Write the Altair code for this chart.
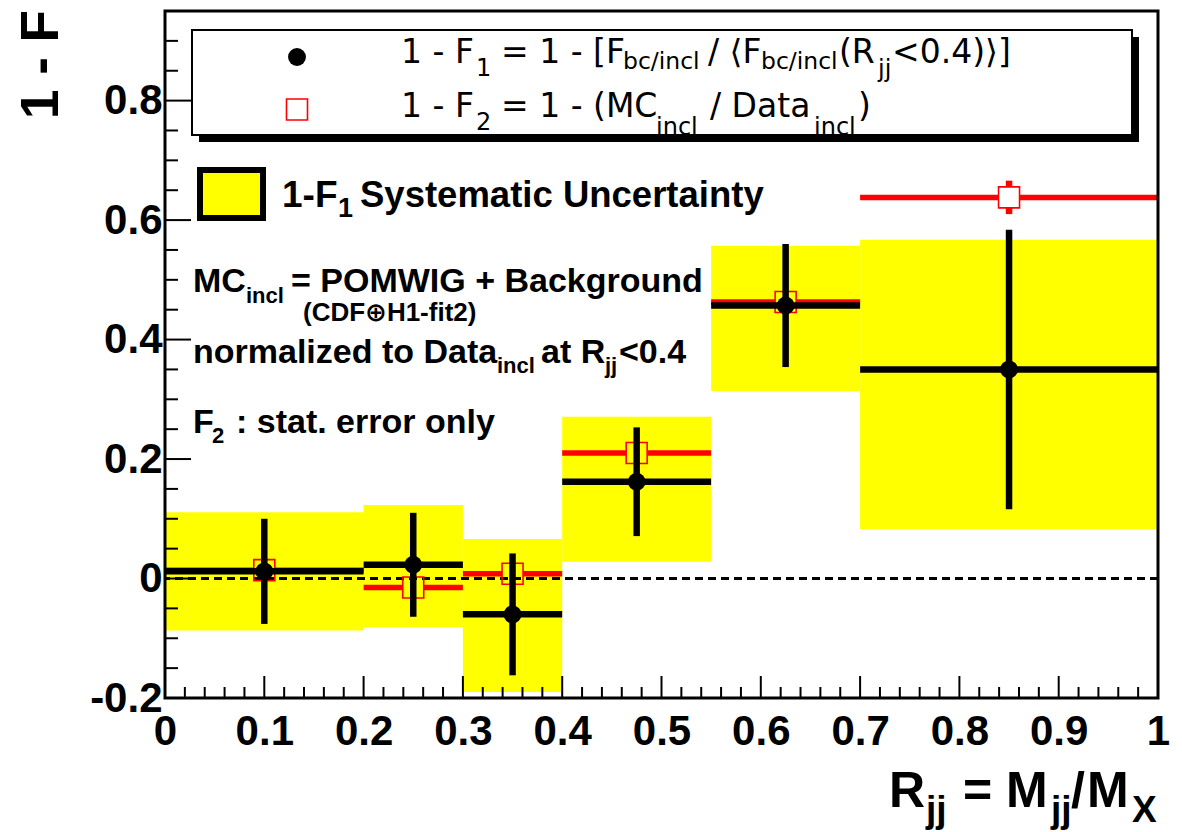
import altair as alt
import pandas as pd

# ---------------- data ----------------
bin_lo = [0.0, 0.2, 0.3, 0.4, 0.55, 0.7]
bin_hi = [0.2, 0.3, 0.4, 0.55, 0.7, 1.0]
x_mid = [0.1, 0.25, 0.35, 0.475, 0.625, 0.85]
f1 = [0.012, 0.023, -0.060, 0.162, 0.457, 0.350]          # 1 - F1
f1_err = [0.088, 0.087, 0.102, 0.091, 0.103, 0.234]
sys_lo = [-0.087, -0.081, -0.190, 0.028, 0.314, 0.083]    # systematic band
sys_hi = [0.111, 0.123, 0.066, 0.271, 0.557, 0.567]
f2 = [0.014, -0.015, 0.008, 0.210, 0.463, 0.638]          # 1 - F2
f2_err = [0.010, 0.011, 0.011, 0.012, 0.013, 0.028]

x_major = [0.0, 0.1, 0.2, 0.3, 0.4, 0.5, 0.6, 0.7, 0.8, 0.9, 1.0]
x_minor = [round(i * 0.02, 2) for i in range(51) if i % 5 != 0]
y_major = [-0.2, 0.0, 0.2, 0.4, 0.6, 0.8]
y_minor = [round(-0.2 + i * 0.05, 2) for i in range(23) if i % 4 != 0]

# text content
L1_TEXT = ["1 - F", "1", "= 1 - [F", "bc/incl", "/ \u27e8F", "bc/incl", "(R", "jj", "<0.4)\u27e9]",
           "1 - F", "2", "= 1 - (MC", "incl", "/ Data", "incl", ")"]
AN_TEXT = ["1-F", "1", "Systematic Uncertainty",
           "MC", "incl", "= POMWIG + Background", "(CDF\u2295H1-fit2)",
           "normalized to Data", "incl", "at R", "jj", "<0.4",
           "F", "2", ": stat. error only"]
XT_TEXT = ["R", "jj", "=", "M", "jj", "/", "M", "X"]
YT_TEXT = "1 - F"

# ---------------- layout (pixels) ----------------
W, H = 993, 687
LEFT, TOP = 165, 11
YMIN, YMAX = -0.2, 0.95
L1_POS = [(401, 63, 33), (476, 76, 24), (501, 63, 33), (623, 69, 23.5), (708, 63, 33),
          (761, 69, 23.5), (839, 63, 33), (878, 77, 24), (892, 63, 33),
          (401, 117, 33), (476, 130, 24), (501, 117, 33), (656, 135, 24), (710, 117, 33),
          (814, 135, 24), (858, 117, 33)]
AN_POS = [(282, 207, 37), (338, 217, 27), (360, 207, 36.5),
          (193, 292, 34), (246, 303, 22), (291, 292, 34), (303, 321, 26),
          (193, 363, 34), (497, 373, 22), (541, 363, 34), (605, 373, 22), (619, 363, 34),
          (193, 433, 34), (212, 443, 22), (236, 433, 34)]
XT_POS = [(889, 807, 50), (926, 822, 37), (963, 807, 50), (1006, 807, 50), (1051, 822, 37),
          (1071, 807, 50), (1087, 807, 50), (1132, 822, 37)]

BOLD = "Liberation Sans, Arial, DejaVu Sans"
REG = "DejaVu Sans"
RED = "#ff0000"
YEL = "#ffff00"

SQ = 21  # open-square marker side, px
gx = (SQ / 2) / W
gy = (SQ / 2) / (H / (YMAX - YMIN))

SX = alt.Scale(domain=[0, 1], nice=False, zero=False)
SY = alt.Scale(domain=[YMIN, YMAX], nice=False, zero=False)

AXX = alt.Axis(values=x_major,
               labelExpr="datum.value == 0 ? '0' : (datum.value == 1 ? '1' : format(datum.value, '.1f'))",
               labelFont=BOLD, labelFontWeight="bold", labelFontSize=42, labelColor="black",
               labelPadding=13, ticks=False, tickSize=0, domain=False, grid=False,
               labelFlush=False, labelOverlap=False, title=None)
AXY = alt.Axis(values=y_major,
               labelExpr="datum.value == 0 ? '0' : (datum.value < 0 ? '-' : '') + format(abs(datum.value), '.1f')",
               labelFont=BOLD, labelFontWeight="bold", labelFontSize=42, labelColor="black",
               labelPadding=3, ticks=False, tickSize=0, domain=False, grid=False,
               labelFlush=False, labelOverlap=False, title=None)


def X(f):
    return alt.X(f, scale=SX, axis=AXX)


def Y(f):
    return alt.Y(f, scale=SY, axis=AXY)


df = pd.DataFrame({"lo": bin_lo, "hi": bin_hi, "x": x_mid, "f1": f1, "e1": f1_err,
                   "slo": sys_lo, "shi": sys_hi, "f2": f2, "e2": f2_err})
df["f1lo"] = df.f1 - df.e1
df["f1hi"] = df.f1 + df.e1

# red horizontal segments (broken at the open marker)
rh = []
for lo, hi, xm, v in zip(bin_lo, bin_hi, x_mid, f2):
    rh.append({"a": lo, "b": xm - gx, "y": v})
    rh.append({"a": xm + gx, "b": hi, "y": v})
rh = pd.DataFrame(rh)
rv = []
for xm, v, e in zip(x_mid, f2, f2_err):
    if e > gy:
        rv.append({"x": xm, "a": v + gy, "b": v + e})
        rv.append({"x": xm, "a": v - e, "b": v - gy})
rv = pd.DataFrame(rv)

base = alt.Chart(df)

band = base.mark_rect(color=YEL).encode(x=X("lo:Q"), x2="hi:Q", y=Y("slo:Q"), y2="shi:Q")

zero = alt.Chart(alt.Data(values=[{"z": 0}])).mark_rule(
    color="black", strokeWidth=3, strokeDash=[8, 5]).encode(y=Y("z:Q"))

red_h = alt.Chart(rh).mark_rule(color=RED, strokeWidth=5.5).encode(
    x=X("a:Q"), x2="b:Q", y=Y("y:Q"))
red_v = alt.Chart(rv).mark_rule(color=RED, strokeWidth=6.5).encode(
    x=X("x:Q"), y=Y("a:Q"), y2="b:Q")
red_pt = base.mark_point(shape="square", filled=False, color=RED, strokeWidth=1.6,
                         size=SQ * SQ, opacity=1).encode(x=X("x:Q"), y=Y("f2:Q"))

blk_h = base.mark_rule(color="black", strokeWidth=6.5).encode(
    x=X("lo:Q"), x2="hi:Q", y=Y("f1:Q"))
blk_v = base.mark_rule(color="black", strokeWidth=6.5).encode(
    x=X("x:Q"), y=Y("f1lo:Q"), y2="f1hi:Q")
blk_pt = base.mark_point(shape="circle", filled=True, color="black", size=320, opacity=1).encode(
    x=X("x:Q"), y=Y("f1:Q"))


def yticks(vals, length):
    return alt.Chart(alt.Data(values=[{"v": v} for v in vals])).mark_rule(
        color="black", strokeWidth=2).encode(
        y=Y("v:Q"), x=alt.value(0), x2=alt.value(length))


def xticks(vals, length):
    return alt.Chart(alt.Data(values=[{"v": v} for v in vals])).mark_rule(
        color="black", strokeWidth=2).encode(
        x=X("v:Q"), y=alt.value(H), y2=alt.value(H - length))


one = alt.Data(values=[{}])


def box(x0, y0, x1, y1, **kw):
    return alt.Chart(one).mark_rect(**kw).encode(
        x=alt.value(x0 - LEFT), x2=alt.value(x1 - LEFT),
        y=alt.value(y0 - TOP), y2=alt.value(y1 - TOP))


def txt(t, x, y, size, font=BOLD, weight="bold", angle=0, align="left"):
    return alt.Chart(alt.Data(values=[{"t": t}])).mark_text(
        font=font, fontSize=size, fontWeight=weight, angle=angle, align=align,
        baseline="alphabetic", color="black").encode(
        text="t:N", x=alt.value(x - LEFT), y=alt.value(y - TOP))


frame = box(LEFT, TOP, LEFT + W, TOP + H, filled=False, stroke="black", strokeWidth=3)

leg_shadow = box(199, 37, 1139, 142, color="black")
leg_box = box(192, 30, 1132, 135, fill="white", stroke="black", strokeWidth=2)
leg_dot = alt.Chart(one).mark_point(shape="circle", filled=True, color="black", size=320,
                                    opacity=1).encode(x=alt.value(297 - LEFT), y=alt.value(57 - TOP))
leg_sq = alt.Chart(one).mark_point(shape="square", filled=False, color=RED, strokeWidth=1.6,
                                   size=SQ * SQ, opacity=1).encode(
    x=alt.value(297 - LEFT), y=alt.value(109.5 - TOP))
leg2_box = box(200, 170, 263, 218, fill=YEL, stroke="black", strokeWidth=6)

layers = [band, zero, red_h, red_v, red_pt, blk_h, blk_v, blk_pt,
          yticks(y_major, 26), yticks(y_minor, 13), xticks(x_major, 22), xticks(x_minor, 11),
          frame, leg_shadow, leg_box, leg_dot, leg_sq, leg2_box]
for t, (x, y, s) in zip(L1_TEXT, L1_POS):
    layers.append(txt(t, x, y, s, font=REG, weight="normal"))
for t, (x, y, s) in zip(AN_TEXT, AN_POS):
    layers.append(txt(t, x, y, s))
for t, (x, y, s) in zip(XT_TEXT, XT_POS):
    layers.append(txt(t, x, y, s))
layers.append(txt(YT_TEXT, 58, 10, 53, angle=270, align="right"))

chart = alt.layer(*layers).properties(
    width=W, height=H,
    padding={"left": LEFT, "top": TOP, "right": 1182 - LEFT - W, "bottom": 832 - TOP - H},
    autosize=alt.AutoSizeParams(type="none"),
    background="white",
).configure_view(strokeWidth=0)

chart.save("out.html", embed_options={"renderer": "svg", "actions": False})
